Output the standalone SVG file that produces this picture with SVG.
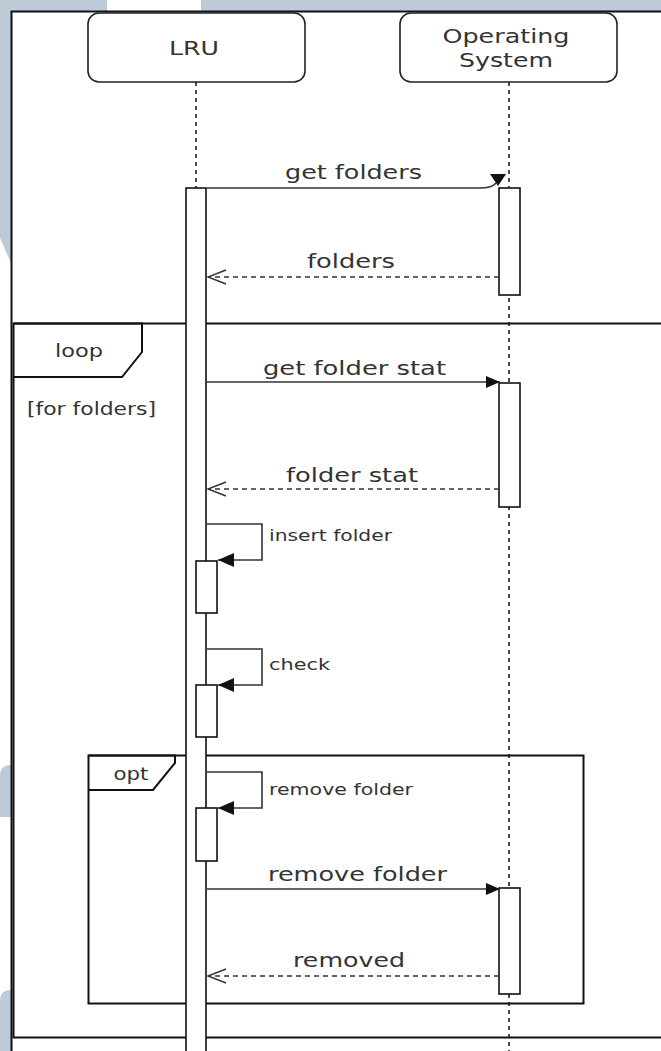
<svg xmlns="http://www.w3.org/2000/svg" width="661" height="1051" viewBox="0 0 661 1051">
  <defs>
    <style>
      .frame { fill: none; stroke: #111; stroke-width: 2; }
      .box { fill: #fff; stroke: #222; stroke-width: 1.6; }
      .life { fill: none; stroke: #111; stroke-width: 1.5; stroke-dasharray: 4 4; }
      .act { fill: #fff; stroke: #111; stroke-width: 1.6; }
      .msg { fill: none; stroke: #333; stroke-width: 1.6; }
      .ret { fill: none; stroke: #333; stroke-width: 1.4; stroke-dasharray: 5 4; }
      .lbl { font-family: "DejaVu Sans", Verdana, sans-serif; fill: #333; }
      .big { font-size: 19px; }
      .small { font-size: 16px; }
      .head { font-size: 20px; }
      .tag { font-size: 17px; }
      .bg { fill: #bdcbd9; }
    </style>
    <marker id="solid" markerUnits="userSpaceOnUse" markerWidth="16" markerHeight="14" refX="14" refY="6" orient="auto">
      <path d="M0,0 L14,6 L0,12 z" fill="#111"/>
    </marker>
    <marker id="self" markerUnits="userSpaceOnUse" markerWidth="18" markerHeight="16" refX="16" refY="7" orient="auto">
      <path d="M0,0 L16,7 L0,14 z" fill="#111"/>
    </marker>
    <marker id="open" markerUnits="userSpaceOnUse" markerWidth="22" markerHeight="18" refX="19" refY="8" orient="auto">
      <path d="M1,1 L19,8 L1,15" fill="none" stroke="#333" stroke-width="1.4"/>
    </marker>
  </defs>

  <rect width="661" height="1051" fill="#fff"/>

  <!-- backdrop bands along the top and left edges -->
  <g id="backdrop">
    <rect class="bg" x="0" y="0" width="107" height="11"/>
    <rect class="bg" x="201" y="0" width="460" height="11"/>
    <polygon class="bg" points="0,0 11,0 11,263 0,238"/>
    <path class="bg" d="M0,776 Q0,765 11,765 V817 H0 z"/>
    <path class="bg" d="M0,1001 Q0,990 11,990 V1051 H0 z"/>
  </g>

  <!-- combined fragments -->
  <g id="outer-frame">
    <rect class="frame" x="11.5" y="11.5" width="700" height="1100"/>
  </g>
  <g id="loop-fragment">
    <rect class="frame" x="13.5" y="323.5" width="700" height="714"/>
    <path class="frame" d="M13.5,323.5 H142 V352 L122,377 H13.5"/>
    <text class="lbl tag" x="79" y="357" text-anchor="middle" textLength="48" lengthAdjust="spacingAndGlyphs">loop</text>
    <text class="lbl tag" x="27" y="415" textLength="129" lengthAdjust="spacingAndGlyphs">[for folders]</text>
  </g>
  <g id="opt-fragment">
    <rect class="frame" x="88.5" y="755.5" width="495" height="248" stroke-width="1.8"/>
    <path class="frame" d="M88.5,755.5 H175 V763 L153,790 H88.5" stroke-width="1.8"/>
    <text class="lbl tag" x="131" y="780" text-anchor="middle" textLength="35" lengthAdjust="spacingAndGlyphs">opt</text>
  </g>

  <!-- participants -->
  <g id="lru">
    <rect class="box" x="88" y="13" width="217" height="69" rx="11"/>
    <text class="lbl head" x="194" y="55" text-anchor="middle" textLength="50" lengthAdjust="spacingAndGlyphs">LRU</text>
    <line class="life" x1="196" y1="82" x2="196" y2="1051"/>
  </g>
  <g id="os">
    <rect class="box" x="400" y="13" width="217" height="69" rx="11"/>
    <text class="lbl head" x="506" y="43" text-anchor="middle" textLength="127" lengthAdjust="spacingAndGlyphs">Operating</text>
    <text class="lbl head" x="506" y="67" text-anchor="middle" textLength="94" lengthAdjust="spacingAndGlyphs">System</text>
    <line class="life" x1="509" y1="82" x2="509" y2="1051"/>
  </g>

  <!-- activations -->
  <g id="lru-activation">
    <rect class="act" x="186" y="188" width="20" height="900"/>
  </g>
  <g id="lru-self-activations">
    <rect class="act" x="196" y="561" width="21" height="52"/>
    <rect class="act" x="196" y="685" width="21" height="52"/>
    <rect class="act" x="196" y="808" width="21" height="53"/>
  </g>
  <g id="os-activations">
    <rect class="act" x="499" y="188" width="21" height="107"/>
    <rect class="act" x="499" y="383" width="21" height="124"/>
    <rect class="act" x="499" y="888" width="21" height="106"/>
  </g>

  <!-- messages -->
  <g id="connectors">
    <path class="msg" d="M207,188 H480 Q492,188 496,183"/>
    <polygon points="490,174 506,174 498,186" fill="#111"/>
    <line class="ret" x1="499" y1="277" x2="208" y2="277" marker-end="url(#open)"/>

    <line class="msg" x1="207" y1="382" x2="500" y2="382" marker-end="url(#solid)"/>
    <line class="ret" x1="499" y1="489" x2="208" y2="489" marker-end="url(#open)"/>

    <path class="msg" d="M207,524 H262 V560 H218" marker-end="url(#self)"/>
    <path class="msg" d="M207,649 H262 V685 H218" marker-end="url(#self)"/>
    <path class="msg" d="M207,772 H262 V808 H218" marker-end="url(#self)"/>

    <line class="msg" x1="207" y1="889" x2="500" y2="889" marker-end="url(#solid)"/>
    <line class="ret" x1="499" y1="976" x2="208" y2="976" marker-end="url(#open)"/>
  </g>

  <!-- message labels -->
  <g id="labels">
    <text class="lbl big" x="285" y="179" textLength="137" lengthAdjust="spacingAndGlyphs">get folders</text>
    <text class="lbl big" x="307" y="268" textLength="88" lengthAdjust="spacingAndGlyphs">folders</text>
    <text class="lbl big" x="263" y="375" textLength="183" lengthAdjust="spacingAndGlyphs">get folder stat</text>
    <text class="lbl big" x="286" y="482" textLength="132" lengthAdjust="spacingAndGlyphs">folder stat</text>
    <text class="lbl small" x="269" y="541" textLength="123" lengthAdjust="spacingAndGlyphs">insert folder</text>
    <text class="lbl small" x="269" y="670" textLength="61" lengthAdjust="spacingAndGlyphs">check</text>
    <text class="lbl small" x="269" y="795" textLength="144" lengthAdjust="spacingAndGlyphs">remove folder</text>
    <text class="lbl big" x="268" y="881" textLength="179" lengthAdjust="spacingAndGlyphs">remove folder</text>
    <text class="lbl big" x="293" y="967" textLength="112" lengthAdjust="spacingAndGlyphs">removed</text>
  </g>
</svg>
